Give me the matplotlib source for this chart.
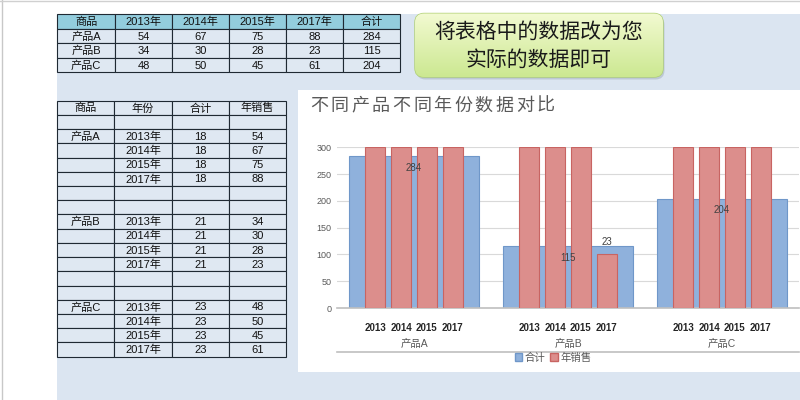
import matplotlib
matplotlib.use('Agg')
import matplotlib.pyplot as plt
import numpy as np
from matplotlib.patches import Rectangle, FancyBboxPatch, Patch

plt.rcParams['font.family'] = ['Liberation Sans', 'Noto Sans CJK SC']

# 数据
products = ['产品A', '产品B', '产品C']
years = ['2013', '2014', '2015', '2017']
sales = [[54, 67, 75, 88],
         [34, 30, 28, 23],
         [48, 50, 45, 61]]
totals = [284, 115, 204]
share = [18, 21, 23]          # 第二张表里的"合计"列
# 图上红柱的显示高度(超出300的被截断)
red_heights = [[300, 300, 300, 300],
               [300, 300, 300, 100],
               [300, 300, 300, 300]]
title = '不同产品不同年份数据对比'
note = ['将表格中的数据改为您', '实际的数据即可']

# 颜色
bg_blue = '#dbe5f1'
head_col = '#93cddd'
cell_col = '#dfe8f2'
line_col = '#1f2933'
blue = '#8fb1dc'
blue_edge = '#6f97c9'
red = '#dc8e8c'
red_edge = '#c86462'

fig = plt.figure(figsize=(8, 4), dpi=100)
bg = fig.add_axes([0, 0, 1, 1])
bg.set_xlim(0, 800)
bg.set_ylim(400, 0)
bg.axis('off')

# 背景
bg.add_patch(Rectangle((0, 0), 800, 400, facecolor='white', edgecolor='none'))
bg.add_patch(Rectangle((57, 14), 743, 386, facecolor=bg_blue, edgecolor='none'))
bg.add_patch(Rectangle((298, 90), 502, 282, facecolor='white', edgecolor='none'))
bg.plot([1.5, 1.5], [0, 400], color='#c8c8c8', lw=1)
bg.plot([0, 800], [0.8, 0.8], color='#d0d0d0', lw=1)


def cell(x0, x1, y0, y1, txt='', fc=cell_col, fs=8):
    bg.add_patch(Rectangle((x0, y0), x1 - x0, y1 - y0, facecolor=fc,
                           edgecolor=line_col, lw=0.8))
    if txt:
        bg.text((x0 + x1) / 2, (y0 + y1) / 2 + 0.5, txt, ha='center', va='center',
                fontsize=fs, color='#111111')


# 上表
xs1 = [57, 115, 172, 229, 286, 343, 400]
ys1 = [14.3, 28.8, 43.3, 57.8, 72.3]
head1 = ['商品'] + [y + '年' for y in years] + ['合计']
for j, h in enumerate(head1):
    cell(xs1[j], xs1[j + 1], ys1[0], ys1[1], h, fc=head_col)
for i, p in enumerate(products):
    row = [p] + [str(v) for v in sales[i]] + [str(totals[i])]
    for j, t in enumerate(row):
        cell(xs1[j], xs1[j + 1], ys1[i + 1], ys1[i + 2], t)

# 下表
xs2 = [57, 114, 172, 229, 286]
top2 = 100.7
rh = 14.22
rows = [['商品', '年份', '合计', '年销售'], ['', '', '', '']]
for i, p in enumerate(products):
    for k, y in enumerate(years):
        rows.append([p if k == 0 else '', y + '年', str(share[i]), str(sales[i][k])])
    if i < len(products) - 1:
        rows += [['', '', '', ''], ['', '', '', '']]
for r, row in enumerate(rows):
    for j, t in enumerate(row):
        cell(xs2[j], xs2[j + 1], top2 + r * rh, top2 + (r + 1) * rh, t)

# 提示框
bx0, bx1, by0, by1 = 415, 663, 13.5, 77
shadow = FancyBboxPatch((bx0 + 1.5, by0 + 2.5), bx1 - bx0, by1 - by0,
                        boxstyle='round,pad=0,rounding_size=9',
                        facecolor='#9aa6b4', edgecolor='none', alpha=0.45)
bg.add_patch(shadow)
box = FancyBboxPatch((bx0, by0), bx1 - bx0, by1 - by0,
                     boxstyle='round,pad=0,rounding_size=9',
                     facecolor='none', edgecolor='#aecf72', lw=1)
bg.add_patch(box)
grad = np.linspace(0, 1, 64)[:, None]
c_top = np.array([0.95, 0.98, 0.82])
c_bot = np.array([0.80, 0.91, 0.57])
img = c_top + (c_bot - c_top) * grad[..., None]
img = np.repeat(img, 2, axis=1)
im = bg.imshow(img, extent=(bx0, bx1, by1, by0), origin='upper', aspect='auto', zorder=1)
im.set_clip_path(box)
bg.set_xlim(0, 800)
bg.set_ylim(400, 0)
for k, line in enumerate(note):
    bg.text((bx0 + bx1) / 2, 31.5 + k * 28, line, ha='center', va='center',
            fontsize=15, color='#1a1a1a', zorder=3)

# 图表标题(逐字排开)
for k, ch in enumerate(title):
    bg.text(310 + k * 20.6, 106, ch, ha='left', va='center', fontsize=13,
            color='#595959')

# 图表
ax = fig.add_axes([337 / 800, 92 / 400, 462 / 800, 160.7 / 400])
ax.set_facecolor('none')
x = np.arange(len(products))
offsets = (np.arange(len(years)) - 1.5) * 0.167
bw_blue = 0.84
bw_red = 0.13

blue_bars = ax.bar(x, totals, bw_blue, color=blue, edgecolor=blue_edge, lw=0.8,
                   zorder=2, label='合计')
red_h = np.array(red_heights)
red_cont = []
for k in range(len(years)):
    c = ax.bar(x + offsets[k], red_h[:, k], bw_red, color=red, edgecolor=red_edge,
               lw=0.8, zorder=3, label='年销售' if k == 0 else None)
    red_cont.append(c)

ax.bar_label(blue_bars, labels=[str(t) for t in totals], padding=-12,
             fontsize=7, color='#404040', zorder=4)
ax.bar_label(red_cont[3], labels=['', str(sales[1][3]), ''], padding=5,
             fontsize=7, color='#404040')

ax.set_xlim(-0.5, 2.5)
ax.set_ylim(0, 300)
ax.set_yticks(range(0, 301, 50))
ax.yaxis.grid(True, color='#d9d9d9', lw=0.8, zorder=0)
ax.set_axisbelow(True)
for s in ['top', 'right', 'left']:
    ax.spines[s].set_visible(False)
ax.spines['bottom'].set_color('#bfbfbf')
ax.spines['bottom'].set_linewidth(1.2)

tick_pos = (x[:, None] + offsets[None, :]).ravel()
ax.set_xticks(tick_pos)
ax.set_xticklabels(years * len(products), fontsize=7, fontweight='bold', color='#262626')
ax.tick_params(axis='x', length=0, pad=11)
ax.tick_params(axis='y', length=0, pad=4, labelsize=6.5, labelcolor='#595959')

tr = ax.get_xaxis_transform()
for i, p in enumerate(products):
    ax.text(x[i], -0.224, p, transform=tr, ha='center', va='center',
            fontsize=7.5, color='#595959')
ax.plot([-0.5, 2.5], [-0.272, -0.272], transform=tr, color='#bfbfbf', lw=1.2, clip_on=False)

handles = [Patch(facecolor=blue, edgecolor=blue_edge), Patch(facecolor=red, edgecolor=red_edge)]
fig.legend(handles, ['合计', '年销售'], loc='center', bbox_to_anchor=(553 / 800, 1 - 357.5 / 400),
           ncol=2, frameon=False, fontsize=7.5, handlelength=0.7, handleheight=0.7,
           handletextpad=0.25, columnspacing=0.5, labelcolor='#595959')

fig.savefig('out.png', dpi=100)
